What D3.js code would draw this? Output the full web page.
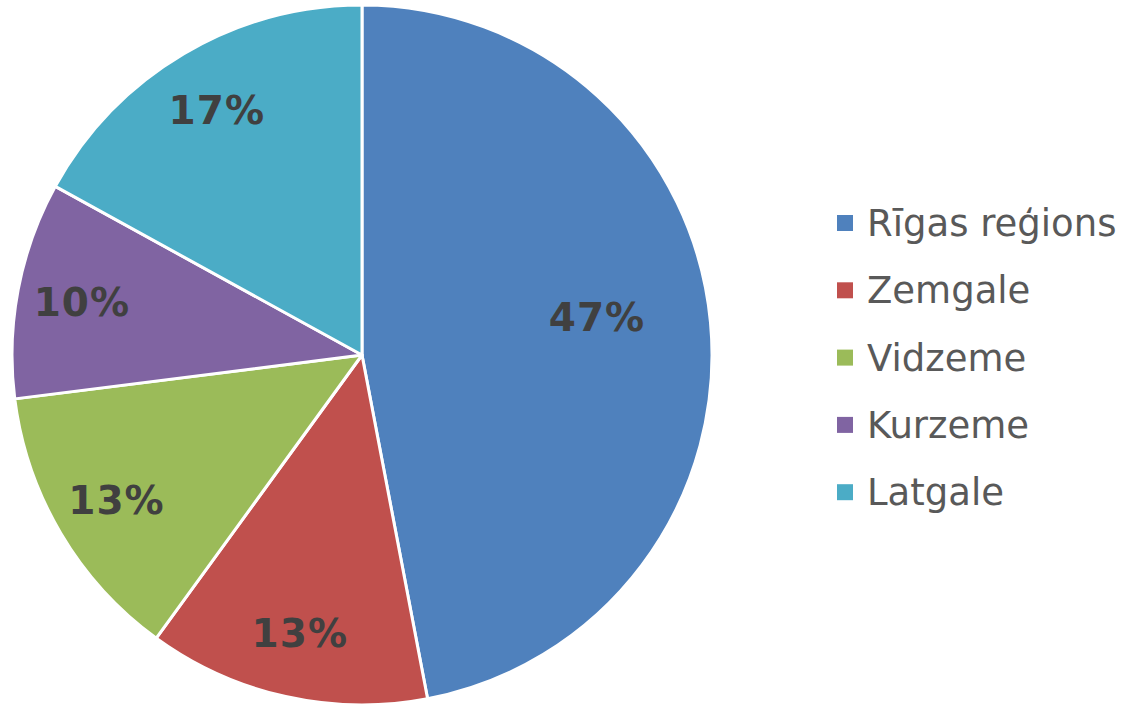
<!DOCTYPE html>
<html>
<head>
<meta charset="utf-8">
<script src="https://cdn.jsdelivr.net/npm/d3@7"></script>
<style>
  body { margin: 0; background: #fff; }
</style>
</head>
<body>
<div id="chart"></div>
<script>
// data
const regions = ["Rīgas reģions", "Zemgale", "Vidzeme", "Kurzeme", "Latgale"];
const shares = [47, 13, 13, 10, 17];
const colors = ["#4F81BD", "#C0504D", "#9BBB59", "#8064A2", "#4BACC6"];

const width = 1132, height = 705;
const cx = 362, cy = 355, radius = 350;

const svg = d3.select("#chart").append("svg")
    .attr("width", width)
    .attr("height", height);

const color = d3.scaleOrdinal()
    .domain(regions)
    .range(colors);

const data = regions.map(function(r, i) { return {name: r, value: shares[i]}; });

const pie = d3.pie()
    .sort(null)
    .value(function(d) { return d.value; });

const arc = d3.arc()
    .innerRadius(0)
    .outerRadius(radius);

const arcs = pie(data);

const g = svg.append("g")
    .attr("transform", "translate(" + cx + "," + cy + ")");

g.selectAll("path")
    .data(arcs)
    .enter().append("path")
    .attr("d", arc)
    .style("fill", function(d) { return color(d.data.name); })
    .style("stroke", "#fff")
    .style("stroke-width", 3)
    .style("stroke-linejoin", "round");

// best-fit style labels: big slice nearer the centre
function labelPos(d) {
    const k = d.data.value > 30 ? 0.68 : 0.815;
    const a = (d.startAngle + d.endAngle) / 2 - (d.data.value > 30 ? 0.065 : 0);
    return [Math.sin(a) * radius * k, -Math.cos(a) * radius * k];
}

g.selectAll(".label")
    .data(arcs)
    .enter().append("text")
    .attr("class", "label")
    .attr("transform", function(d) { return "translate(" + labelPos(d) + ")"; })
    .attr("dy", "0.36em")
    .style("text-anchor", "middle")
    .style("font-family", "'DejaVu Sans', Verdana, sans-serif")
    .style("font-weight", "bold")
    .style("font-size", "39px")
    .style("letter-spacing", "1px")
    .style("fill", "#404040")
    .text(function(d) { return d.data.value + "%"; });

// legend
const legend = svg.selectAll(".legend")
    .data(regions)
    .enter().append("g")
    .attr("class", "legend")
    .attr("transform", function(d, i) { return "translate(837," + (223 + i * 67.3) + ")"; });

legend.append("rect")
    .attr("x", 0)
    .attr("y", -8)
    .attr("width", 16)
    .attr("height", 16)
    .style("fill", color);

legend.append("text")
    .attr("x", 30)
    .attr("dy", "0.35em")
    .style("font-family", "'DejaVu Sans', Verdana, sans-serif")
    .style("font-size", "37px")
    .style("fill", "#595959")
    .text(function(d) { return d; });
</script>
</body>
</html>
